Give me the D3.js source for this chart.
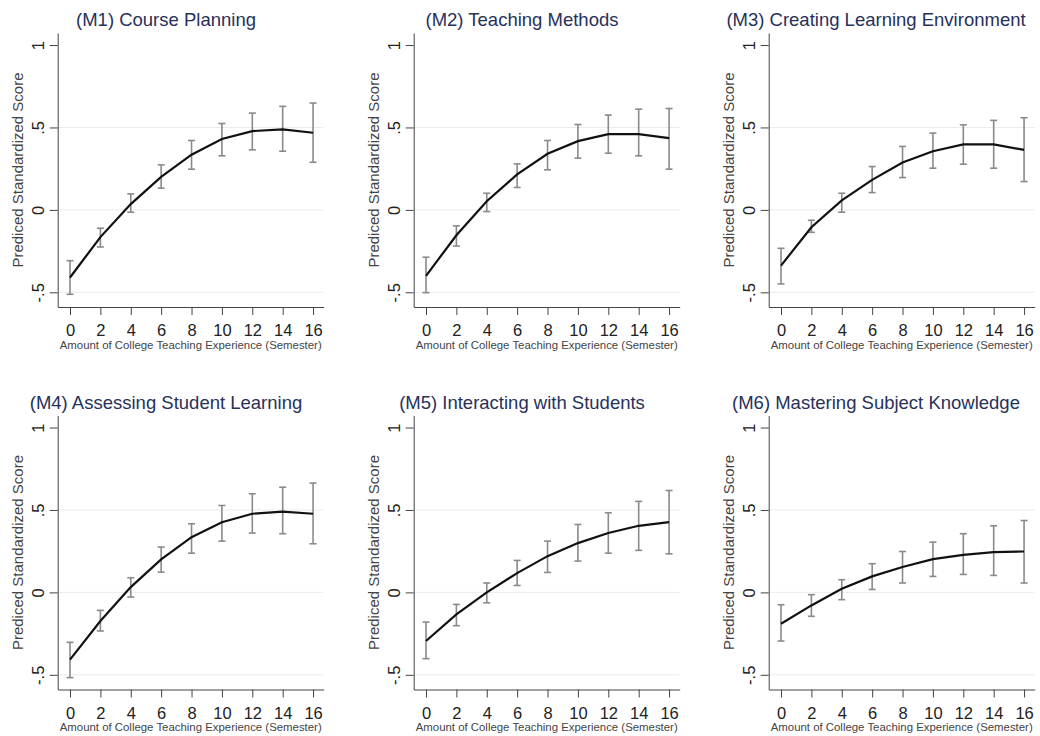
<!DOCTYPE html>
<html>
<head>
<meta charset="utf-8">
<script src="https://cdn.jsdelivr.net/npm/d3@7"></script>
<style>
body {margin:0; background:#fff;}
svg {display:block; font-family:"Liberation Sans", Arial, sans-serif;}
</style>
</head>
<body>
<svg></svg>
<script>
var screen = {width:1040,height:736}

// x values (semesters) and y axis ticks
var semesters = [0,2,4,6,8,10,12,14,16]
var yTicks = [-0.5,0,0.5,1]
var yTickLabels = ["-.5","0",".5","1"]

var titles = ["(M1) Course Planning","(M2) Teaching Methods","(M3) Creating Learning Environment",
              "(M4) Assessing Student Learning","(M5) Interacting with Students","(M6) Mastering Subject Knowledge"]

// predicted score and 95% CI per model
var m1Fit = [-0.41,-0.165,0.035,0.2,0.335,0.43,0.478,0.488,0.468]
var m1Lo  = [-0.512,-0.225,-0.014,0.132,0.247,0.328,0.364,0.356,0.289]
var m1Hi  = [-0.308,-0.111,0.097,0.273,0.421,0.524,0.587,0.628,0.648]

var m2Fit = [-0.4,-0.154,0.053,0.215,0.34,0.417,0.46,0.46,0.435]
var m2Lo  = [-0.502,-0.219,-0.01,0.136,0.243,0.314,0.344,0.328,0.247]
var m2Hi  = [-0.287,-0.097,0.101,0.279,0.421,0.518,0.575,0.611,0.615]

var m3Fit = [-0.338,-0.105,0.058,0.182,0.287,0.356,0.397,0.397,0.364]
var m3Lo  = [-0.449,-0.136,-0.014,0.105,0.196,0.253,0.277,0.253,0.172]
var m3Hi  = [-0.233,-0.063,0.101,0.263,0.385,0.466,0.516,0.543,0.559]

var m4Fit = [-0.408,-0.174,0.032,0.2,0.335,0.426,0.477,0.49,0.477]
var m4Lo  = [-0.517,-0.234,-0.028,0.123,0.238,0.311,0.36,0.356,0.295]
var m4Hi  = [-0.303,-0.109,0.089,0.275,0.416,0.527,0.598,0.638,0.663]

var m5Fit = [-0.295,-0.133,0.0,0.117,0.22,0.299,0.36,0.404,0.426]
var m5Lo  = [-0.402,-0.202,-0.063,0.042,0.121,0.19,0.238,0.255,0.234]
var m5Hi  = [-0.18,-0.073,0.057,0.194,0.311,0.412,0.483,0.552,0.618]

var m6Fit = [-0.19,-0.079,0.022,0.097,0.154,0.202,0.228,0.244,0.248]
var m6Lo  = [-0.295,-0.145,-0.044,0.018,0.057,0.097,0.109,0.103,0.057]
var m6Hi  = [-0.075,-0.014,0.077,0.174,0.248,0.305,0.356,0.404,0.436]

var fits = [m1Fit,m2Fit,m3Fit,m4Fit,m5Fit,m6Fit]
var lows = [m1Lo,m2Lo,m3Lo,m4Lo,m5Lo,m6Lo]
var highs = [m1Hi,m2Hi,m3Hi,m4Hi,m5Hi,m6Hi]

// panel layout
var colLeft = [57.7,413.7,768.7]
var rowTop = [33,415.5]
var titleX = [166,522,876]
var plotW = 266
var plotH = 274

var svg = d3.select("svg")
            .attr("width",screen.width)
            .attr("height",screen.height)

var xScale = d3.scaleLinear()
               .domain([-0.81,16.7])
               .range([0,plotW])
var yScale = d3.scaleLinear()
               .domain([-0.589,1.073])
               .range([plotH,0])

var drawPanel = function(i)
{
    var col = i % 3
    var row = Math.floor(i / 3)
    var data = semesters.map(function(s,k){
        return {x:s, fit:fits[i][k], lo:lows[i][k], hi:highs[i][k]}
    })

    svg.append("text")
       .attr("x",titleX[col])
       .attr("y",rowTop[row]-7)
       .attr("text-anchor","middle")
       .attr("font-size","18.5px")
       .attr("fill","#27315a")
       .text(titles[i])

    var g = svg.append("g")
               .attr("transform","translate("+colLeft[col]+","+rowTop[row]+")")

    // grid lines
    g.selectAll(".grid")
     .data(yTicks.filter(function(t){return t < 1}))
     .enter()
     .append("line")
     .attr("x1",0)
     .attr("x2",plotW)
     .attr("y1",function(t){return yScale(t)})
     .attr("y2",function(t){return yScale(t)})
     .attr("stroke","#ececec")
     .attr("stroke-width",1)

    // x axis
    var xAxis = d3.axisBottom(xScale)
                  .tickValues(semesters)
                  .tickSize(8)
                  .tickPadding(9.5)
                  .tickSizeOuter(0)
    var xa = g.append("g")
              .attr("transform","translate(0,"+plotH+")")
              .call(xAxis)
    xa.select(".domain").attr("stroke","#444")
    xa.selectAll(".tick line").attr("stroke","#444")
    xa.selectAll(".tick text")
      .attr("font-size","16.5px")
      .attr("font-family","Liberation Sans, Arial, sans-serif")
      .attr("fill","#222")

    // y axis
    var yAxis = d3.axisLeft(yScale)
                  .tickValues(yTicks)
                  .tickSize(8)
                  .tickSizeOuter(0)
                  .tickFormat(function(d,k){return yTickLabels[k]})
    var ya = g.append("g").call(yAxis)
    ya.select(".domain").attr("stroke","#444")
    ya.selectAll(".tick line").attr("stroke","#444")
    ya.selectAll(".tick text")
      .attr("x",null)
      .attr("dy",null)
      .attr("transform","translate(-14,0) rotate(-90)")
      .attr("text-anchor","middle")
      .attr("font-size","16.5px")
      .attr("font-family","Liberation Sans, Arial, sans-serif")
      .attr("fill","#222")

    // axis titles
    g.append("text")
     .attr("x",plotW/2)
     .attr("y",plotH+41.5)
     .attr("text-anchor","middle")
     .attr("font-size","10.5px")
     .attr("textLength",262)
     .attr("lengthAdjust","spacingAndGlyphs")
     .attr("fill","#444")
     .text("Amount of College Teaching Experience (Semester)")

    g.append("text")
     .attr("transform","translate(-35,"+(plotH/2)+") rotate(-90)")
     .attr("text-anchor","middle")
     .attr("font-size","15px")
     .attr("fill","#444")
     .text("Prediced Standardized Score")

    // confidence intervals
    var bars = g.selectAll(".ci")
                .data(data)
                .enter()
                .append("g")
                .attr("stroke","#8a8a8a")
                .attr("stroke-width",1.6)
    bars.append("line")
        .attr("x1",function(d){return xScale(d.x)})
        .attr("x2",function(d){return xScale(d.x)})
        .attr("y1",function(d){return yScale(d.lo)})
        .attr("y2",function(d){return yScale(d.hi)})
    bars.append("line")
        .attr("x1",function(d){return xScale(d.x)-3.5})
        .attr("x2",function(d){return xScale(d.x)+3.5})
        .attr("y1",function(d){return yScale(d.lo)})
        .attr("y2",function(d){return yScale(d.lo)})
    bars.append("line")
        .attr("x1",function(d){return xScale(d.x)-3.5})
        .attr("x2",function(d){return xScale(d.x)+3.5})
        .attr("y1",function(d){return yScale(d.hi)})
        .attr("y2",function(d){return yScale(d.hi)})

    var lineGenerator = d3.line()
                          .x(function(d){return xScale(d.x)})
                          .y(function(d){return yScale(d.fit)})
    g.append("path")
     .datum(data)
     .attr("d",lineGenerator)
     .attr("fill","none")
     .attr("stroke","#111")
     .attr("stroke-width",2.2)
}

for (var i = 0; i < 6; i++)
{
    drawPanel(i)
}
</script>
</body>
</html>
